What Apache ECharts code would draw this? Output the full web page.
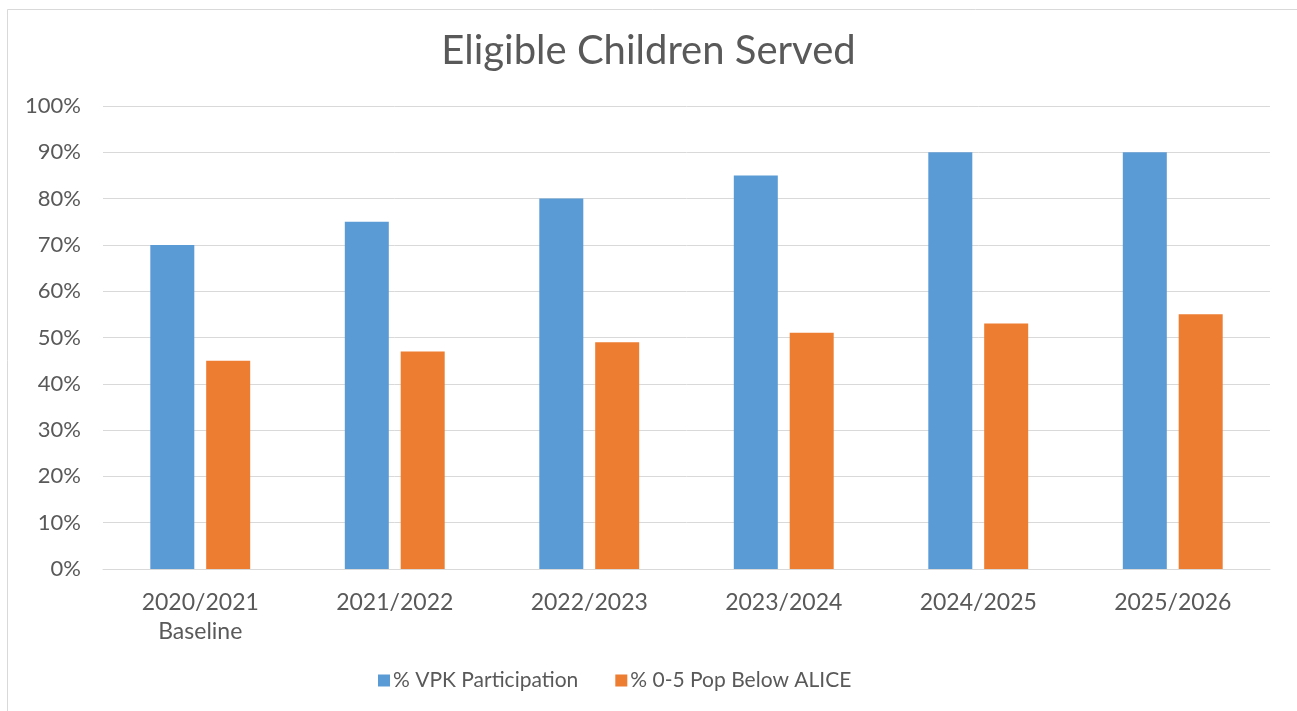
<!DOCTYPE html>
<html><head><meta charset="utf-8">
<script src="https://cdn.jsdelivr.net/npm/echarts@6/dist/echarts.min.js"></script>
<style>html,body{margin:0;padding:0;background:#fff}#c{width:1297px;height:711px}</style>
</head><body><div id="c"></div>
<script>
const categories = ['2020/2021\nBaseline', '2021/2022', '2022/2023', '2023/2024', '2024/2025', '2025/2026'];
const vpkParticipation = [70, 75, 80, 85, 90, 90];
const popBelowAlice = [45, 47, 49, 51, 53, 55];
const seriesNames = ['% VPK Participation', '% 0-5 Pop Below ALICE'];
const FONT = 'Lato';
const TXT = '#595959';
const chart = echarts.init(document.getElementById('c'), null, {renderer: 'canvas'});
chart.setOption({
  animation: false,
  backgroundColor: '#fff',
  graphic: [{type: 'rect', shape: {x: 7.5, y: 9.5, width: 1400, height: 800}, style: {fill: 'none', stroke: '#d9d9d9', lineWidth: 1}, silent: true, z: -1}],
  title: {text: 'Eligible Children Served', left: 'center', top: 26,
    textStyle: {fontFamily: FONT, fontSize: 40, fontWeight: 'normal', color: TXT}},
  legend: {bottom: 15, left: 373, itemWidth: 12, itemHeight: 12, itemGap: 37, icon: 'rect',
    textStyle: {fontFamily: FONT, fontSize: 21, color: TXT, padding: [0, 0, 0, -2]}, data: seriesNames},
  grid: {left: 103, right: 27, top: 106, bottom: 142, containLabel: false},
  xAxis: {type: 'category', data: categories,
    axisLine: {lineStyle: {color: '#d9d9d9', width: 1}}, axisTick: {show: false},
    axisLabel: {fontFamily: FONT, fontSize: 23, color: TXT, margin: 19, lineHeight: 29}},
  yAxis: {type: 'value', min: 0, max: 100, interval: 10,
    axisLine: {show: false}, axisTick: {show: false},
    splitLine: {lineStyle: {color: '#d9d9d9', width: 1}},
    axisLabel: {fontFamily: FONT, fontSize: 22, color: TXT, margin: 22, formatter: v => v + '%'}},
  series: [
    {name: seriesNames[0], type: 'bar', data: vpkParticipation, barWidth: 44, barGap: '27%', itemStyle: {color: '#5B9BD5'}},
    {name: seriesNames[1], type: 'bar', data: popBelowAlice, barWidth: 44, itemStyle: {color: '#ED7D31'}}
  ]
});
</script></body></html>
